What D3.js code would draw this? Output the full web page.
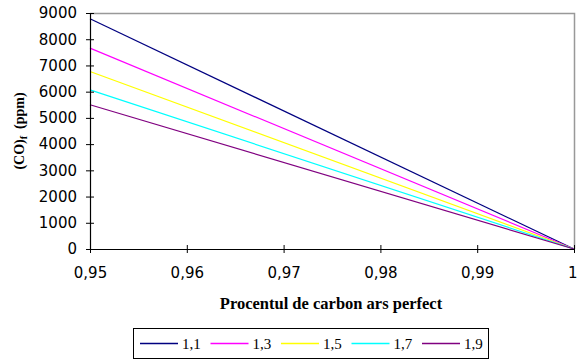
<!DOCTYPE html>
<html>
<head>
<meta charset="utf-8">
<script src="https://cdn.jsdelivr.net/npm/d3@7/dist/d3.min.js"></script>
<style>
  html, body { margin: 0; padding: 0; background: #fff; }
  svg { display: block; }
</style>
</head>
<body>
<svg id="chart" width="577" height="363"></svg>
<script>
// Excess-air coefficients (legend) and CO concentration at 95% perfect combustion
const series = ["1,1", "1,3", "1,5", "1,7", "1,9"];
const colors = ["#000080", "#ff00ff", "#ffff00", "#00ffff", "#800080"];
const xValues = [0.95, 1.0];
const coStart = [8780, 7660, 6770, 6070, 5500];
const coEnd = [0, 0, 0, 0, 0];
const xTicks = [0.95, 0.96, 0.97, 0.98, 0.99, 1.0];
const yTicks = [0, 1000, 2000, 3000, 4000, 5000, 6000, 7000, 8000, 9000];

const svg = d3.select("#chart");
const plotL = 90, plotR = 574, plotT = 13, plotB = 249;

const x = d3.scaleLinear().domain([0.95, 1.0]).range([plotL, plotR]);
const y = d3.scaleLinear().domain([0, 9000]).range([plotB, plotT]);

const fmtX = v => v === 1 ? "1" : d3.format(".2f")(v).replace(".", ",");
const tickFont = "DejaVu Sans, Verdana, sans-serif";
const serif = "Liberation Serif, Times New Roman, serif";

// plot frame (grey top and right edges)
svg.append("path")
  .attr("d", `M${plotL},${plotT + 0.5}H${plotR + 0.5}V${plotB}`)
  .attr("fill", "none").attr("stroke", "#999").attr("stroke-width", 1.5);

// series lines
const line = d3.line().x(d => x(d[0])).y(d => y(d[1]));
series.forEach((s, i) => {
  const pts = [[xValues[0], coStart[i]], [xValues[1], coEnd[i]]];
  svg.append("path").datum(pts)
    .attr("d", line)
    .attr("fill", "none")
    .attr("stroke", colors[i])
    .attr("stroke-width", 1.2);
});

// y axis with crossing ticks
const yAxis = svg.append("g").attr("transform", `translate(${plotL},0)`)
  .call(d3.axisLeft(y).tickValues(yTicks).tickSize(0).tickPadding(13).tickFormat(d3.format("d")));
yAxis.select(".domain").attr("stroke", "#000").attr("stroke-width", 1.2);
yAxis.selectAll(".tick line").attr("x1", -4).attr("x2", 4).attr("stroke", "#000");
yAxis.selectAll("text").attr("font-family", tickFont)
  .attr("font-size", 15).attr("fill", "#000");

// x axis with crossing ticks
const xAxis = svg.append("g").attr("transform", `translate(0,${plotB})`)
  .call(d3.axisBottom(x).tickValues(xTicks).tickSize(0).tickPadding(18).tickFormat(fmtX));
xAxis.select(".domain").attr("stroke", "#000").attr("stroke-width", 1.2);
xAxis.selectAll(".tick line").attr("y1", -4).attr("y2", 4).attr("stroke", "#000");
xAxis.selectAll("text").attr("font-family", tickFont)
  .attr("font-size", 15).attr("fill", "#000");
// keep the last label inside the drawing
xAxis.selectAll(".tick text").filter(d => d === 1)
  .attr("text-anchor", "end").attr("dx", 3);

// axis titles
svg.append("text")
  .attr("x", 331).attr("y", 309)
  .attr("text-anchor", "middle")
  .attr("font-family", serif)
  .attr("font-weight", "bold").attr("font-size", 16.5)
  .text("Procentul de carbon ars perfect");

const yTitle = svg.append("text")
  .attr("transform", `translate(24,131) rotate(-90)`)
  .attr("text-anchor", "middle")
  .attr("font-family", serif)
  .attr("font-weight", "bold").attr("font-size", 14)
  .attr("xml:space", "preserve");
yTitle.append("tspan").text("(CO)");
yTitle.append("tspan").attr("font-size", 10).attr("dy", 3).text("f");
yTitle.append("tspan").attr("dy", -3).text("  (ppm)");

// legend
const lg = svg.append("g");
lg.append("rect")
  .attr("x", 133.5).attr("y", 328.5).attr("width", 355).attr("height", 30)
  .attr("fill", "#fff").attr("stroke", "#000").attr("stroke-width", 1);
series.forEach((s, i) => {
  const x0 = 140 + i * 70.5;
  lg.append("line")
    .attr("x1", x0).attr("x2", x0 + 38).attr("y1", 343.5).attr("y2", 343.5)
    .attr("stroke", colors[i]).attr("stroke-width", 1.3);
  lg.append("text")
    .attr("x", x0 + 42).attr("y", 349)
    .attr("font-family", serif)
    .attr("font-size", 15)
    .text(s);
});
</script>
</body>
</html>
